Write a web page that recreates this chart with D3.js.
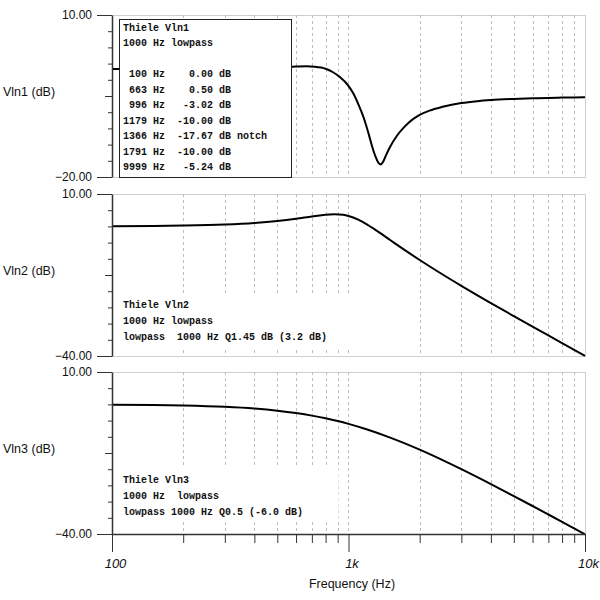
<!DOCTYPE html>
<html>
<head>
<meta charset="utf-8">
<script src="https://cdn.jsdelivr.net/npm/d3@7"></script>
<style>
  body { margin: 0; background: #fff; }
  svg { display: block; }
  .sans { font-family: Arial, "Liberation Sans", sans-serif; fill: #111; }
  .note { font-family: "Courier New", "Liberation Mono", monospace; font-size: 10px; font-weight: bold; white-space: pre; fill: #111; }
</style>
</head>
<body>
<svg id="chart"></svg>
<script>
// grid / tick frequencies on the shared log axis
const freqTicks = [100, 200, 300, 400, 500, 600, 700, 800, 900,
                   1000, 2000, 3000, 4000, 5000, 6000, 7000, 8000, 9000, 10000];
const freqMajor = [100, 1000, 10000];
const freqLabels = ['100', '1k', '10k'];

const vln1Freq = [100, 200, 300, 400, 500, 600, 663, 720, 800, 860, 920, 996, 1050, 1100, 1150, 1179,
                  1220, 1260, 1300, 1335, 1366, 1400, 1440, 1500, 1600, 1700, 1791, 1900, 2000, 2200,
                  2500, 3000, 3500, 4000, 5000, 6000, 7000, 8000, 9999];
const vln1Db = [0, 0.02, 0.06, 0.13, 0.26, 0.44, 0.5, 0.42, 0.05, -0.6, -1.5, -3.02, -4.6, -6.5, -8.6, -10,
                -12.2, -14.4, -16.2, -17.3, -17.67, -17.2, -16.0, -14.4, -12.4, -11.0, -10, -9.1, -8.5, -7.7,
                -7.0, -6.3, -5.95, -5.75, -5.55, -5.43, -5.36, -5.3, -5.24];

// Vln2: lowpass 1000 Hz, Q 1.45
const vln2Freq = [100, 150, 200, 300, 400, 500, 600, 700, 800, 870, 950, 1000, 1100, 1200, 1300,
                  1500, 1700, 2000, 2500, 3000, 4000, 5000, 6000, 7000, 8000, 9000, 10000];
const vln2Db = [0.07, 0.15, 0.27, 0.6, 1.07, 1.67, 2.36, 3.07, 3.63, 3.78, 3.58, 3.23, 2.08, 0.56, -1.07,
                -4.2, -6.94, -10.37, -14.85, -18.34, -23.67, -27.69, -30.94, -33.67, -36.02, -38.09, -39.93];

// Vln3: lowpass 1000 Hz, Q 0.5
const vln3Freq = [100, 150, 200, 300, 400, 500, 600, 700, 800, 900, 1000, 1200, 1500, 1700,
                  2000, 2500, 3000, 4000, 5000, 6000, 7000, 8000, 9000, 10000];
const vln3Db = [-0.09, -0.19, -0.34, -0.75, -1.29, -1.94, -2.67, -3.46, -4.3, -5.15, -6.02, -7.75, -10.24, -11.8,
                -13.98, -17.21, -20, -24.61, -28.3, -31.36, -33.98, -36.26, -38.28, -40.09];

const vln1Note = ['Thiele Vln1', '1000 Hz lowpass', '',
                  ' 100 Hz    0.00 dB', ' 663 Hz    0.50 dB', ' 996 Hz   -3.02 dB',
                  '1179 Hz  -10.00 dB', '1366 Hz  -17.67 dB notch', '1791 Hz  -10.00 dB', '9999 Hz   -5.24 dB'];
const vln2Note = ['Thiele Vln2', '1000 Hz lowpass', 'lowpass  1000 Hz Q1.45 dB (3.2 dB)'];
const vln3Note = ['Thiele Vln3', '1000 Hz  lowpass', 'lowpass 1000 Hz Q0.5 (-6.0 dB)'];

const svg = d3.select('#chart').attr('width', 600).attr('height', 600);

const xScale = d3.scaleLog().domain([100, 10000]).range([112, 585]);

class ResponsePanel {
  constructor(_config, _freq, _db, _note) {
    this.config = _config;
    this.data = _freq.map((f, i) => ({ f: f, db: _db[i] }));
    this.note = _note;
    this.initVis();
  }

  initVis() {
    let vis = this;
    const c = vis.config;

    vis.yScale = d3.scaleLinear().domain(c.domain).range([c.bottom, c.top]);
    vis.g = svg.append('g');

    // light panel frame
    vis.g.append('rect')
        .attr('x', 112.5).attr('y', c.top + 0.5)
        .attr('width', 585 - 112).attr('height', c.bottom - c.top)
        .attr('fill', 'none').attr('stroke', '#cfcfcf');

    // dotted vertical grid
    vis.g.selectAll('.grid')
        .data(freqTicks.filter(f => f > 100 && f < 10000))
        .join('line')
        .attr('class', 'grid')
        .attr('x1', d => Math.round(xScale(d)) + 0.5).attr('x2', d => Math.round(xScale(d)) + 0.5)
        .attr('y1', c.top).attr('y2', c.bottom)
        .attr('stroke', '#bdbdbd').attr('stroke-dasharray', '3,3');

    vis.line = d3.line()
        .x(d => xScale(d.f))
        .y(d => vis.yScale(d.db))
        .curve(d3.curveMonotoneX);
  }

  renderVis() {
    let vis = this;
    const c = vis.config;

    vis.g.append('path')
        .datum(vis.data)
        .attr('d', vis.line)
        .attr('fill', 'none')
        .attr('stroke', '#000')
        .attr('stroke-width', 2);

    // note box (white backing, border only on the first panel)
    vis.g.append('rect')
        .attr('x', c.box.x + 0.5).attr('y', c.box.y + 0.5)
        .attr('width', c.box.w).attr('height', c.box.h)
        .attr('fill', '#fff')
        .attr('stroke', c.box.border ? '#222' : 'none');

    vis.g.selectAll('.note')
        .data(vis.note)
        .join('text')
        .attr('class', 'note')
        .attr('x', 123)
        .attr('y', (d, i) => c.textTop + i * c.lineH + 3.5)
        .text(d => d);

    // y axis: ten divisions, labels only at the ends
    const lo = c.domain[0], hi = c.domain[1];
    const step = (hi - lo) / 10;
    const vals = d3.range(11).map(i => lo + i * step);
    const yAxis = d3.axisLeft(vis.yScale)
        .tickValues(vals)
        .tickSize(4)
        .tickSizeOuter(0)
        .tickFormat(d => (d === lo || d === hi) ? d3.format('.2f')(d) : '');

    const yAxisG = vis.g.append('g')
        .attr('transform', 'translate(112,0)')
        .call(yAxis);
    yAxisG.select('.domain').attr('stroke', '#333').attr('stroke-width', 1.5);
    yAxisG.selectAll('.tick line')
        .attr('stroke', '#333')
        .attr('x2', (d, i) => (i === 0 || i === 10) ? -15 : (i === 5 ? -7 : -4));
    yAxisG.selectAll('.tick text')
        .attr('class', 'sans')
        .attr('x', -20)
        .attr('font-size', 12);

    vis.g.append('text')
        .attr('class', 'sans')
        .attr('x', 3)
        .attr('y', (c.top + c.bottom) / 2)
        .attr('font-size', 12.5)
        .text(c.title);
  }
}

const panels = [
  new ResponsePanel({ top: 15, bottom: 177, domain: [-20, 10], title: 'Vln1 (dB)',
    box: { x: 119, y: 19, w: 172, h: 158, border: true }, textTop: 27, lineH: 15.5 }, vln1Freq, vln1Db, vln1Note),
  new ResponsePanel({ top: 194, bottom: 356, domain: [-40, 10], title: 'Vln2 (dB)',
    box: { x: 119, y: 293, w: 247, h: 54, border: false }, textTop: 304, lineH: 16 }, vln2Freq, vln2Db, vln2Note),
  new ResponsePanel({ top: 372, bottom: 534, domain: [-40, 10], title: 'Vln3 (dB)',
    box: { x: 119, y: 467, w: 219, h: 53, border: false }, textTop: 479, lineH: 16 }, vln3Freq, vln3Db, vln3Note)
];
panels.forEach(p => p.renderVis());

// shared frequency axis under the last panel
const xAxis = d3.axisBottom(xScale)
    .tickValues(freqTicks)
    .tickSize(9)
    .tickSizeOuter(0)
    .tickFormat(d => {
      const k = freqMajor.indexOf(d);
      return k >= 0 ? freqLabels[k] : '';
    });

const xAxisG = svg.append('g')
    .attr('transform', 'translate(0,534)')
    .call(xAxis);
xAxisG.select('.domain').attr('stroke', '#333').attr('stroke-width', 1.5);
xAxisG.selectAll('.tick line')
    .attr('stroke', '#333')
    .attr('y2', d => freqMajor.includes(d) ? 18 : 9);
xAxisG.selectAll('.tick text')
    .attr('class', 'sans')
    .attr('font-size', 13)
    .attr('font-style', 'italic')
    .attr('x', 3)
    .attr('y', 25);

svg.append('text')
    .attr('class', 'sans')
    .attr('x', 352)
    .attr('y', 588)
    .attr('text-anchor', 'middle')
    .attr('font-size', 12.5)
    .text('Frequency (Hz)');
</script>
</body>
</html>
